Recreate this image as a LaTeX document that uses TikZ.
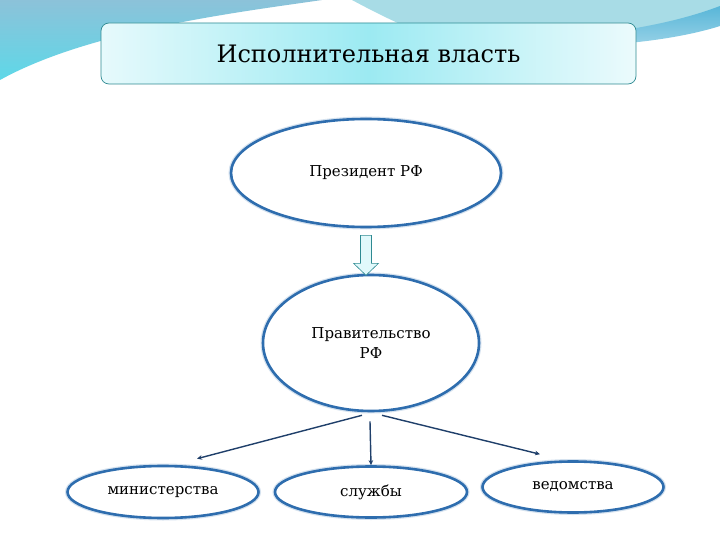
\documentclass[tikz,border=0pt]{standalone}
\usepackage{fontspec}
\setmainfont{DejaVu Serif}
\usetikzlibrary{arrows.meta, positioning, shapes.geometric, calc}
\definecolor{SkyBlue}{HTML}{8CC2D9}
\definecolor{SkyCyan}{HTML}{5ED8E8}
\definecolor{PaleCyan}{HTML}{A8DCE6}
\definecolor{Band}{HTML}{58B6D8}
\definecolor{Teal}{HTML}{2E8A92}
\definecolor{Ring}{HTML}{2E6DAE}
\definecolor{Ink}{HTML}{1F3F6A}
\definecolor{Glass}{HTML}{9CEAF2}

\begin{document}
\begin{tikzpicture}[x=1pt, y=-1pt,
    tbox/.style={rectangle, rounded corners=8pt, draw=Teal, line width=0.7pt,
                  left color=Glass!25!white, right color=Glass!20!white, middle color=Glass,
                  minimum width=535pt, minimum height=61pt, inner sep=0pt,
                  font=\fontsize{24}{28}\selectfont},
    ebox/.style={ellipse, draw=Ring, line width=2.6pt, fill=white, inner sep=0pt,
                  preaction={draw=Ring!20, line width=5pt},
                  align=center, font=\fontsize{15}{20}\selectfont},
    arr/.style={-{Stealth[length=5pt, width=4.5pt]}, line width=1.4pt, draw=Ink},
    barr/.style={draw=Teal, line width=0.6pt, fill=Glass!30!white}
  ]
    \useasboundingbox (0,0) rectangle (720,540);
    \fill[white] (0,0) rectangle (720,540);

    % background swoosh
    \shade[top color=SkyBlue, bottom color=SkyCyan]
      (0,0) -- (322,0) .. controls (240,12) and (90,30) .. (0,80) -- cycle;
    \fill[PaleCyan] (352,0) -- (720,0) -- (720,14)
      .. controls (640,40) and (540,52) .. (450,44)
      .. controls (410,30) and (380,15) .. (352,0) -- cycle;
    \shade[top color=Band, bottom color=Band!55!white]
      (720,6) .. controls (670,25) and (600,38) .. (470,44)
      .. controls (580,52) and (670,42) .. (720,26) -- cycle;

    \node[tbox] (title) at (368.5,53.5) {Исполнительная власть};

    \node[ebox, minimum width=270pt, minimum height=108pt] (pres) at (366,173) {Президент РФ};
    \node[ebox, minimum width=216pt, minimum height=136pt] (gov) at (371,343) {Правительство\\РФ};
    \node[ebox, minimum width=191pt, minimum height=52pt] (min) at (163,492) {министерства};
    \node[ebox, minimum width=192pt, minimum height=51pt] (slu) at (371,492) {службы};
    \node[ebox, minimum width=181pt, minimum height=51pt] (ved) at (573,487) {ведомства};

    % block arrow
    \draw[barr] ([xshift=-5.5pt, yshift=-7pt]pres.south) -- ++(0,28) -- ++(-7,0)
      -- ++(12.5,12) -- ++(12.5,-12) -- ++(-7,0) -- ++(0,-28) -- cycle;

    \draw[arr] ([xshift=-9pt, yshift=-3pt]gov.south) -- ([xshift=34pt, yshift=6pt]min.north);
    \draw[arr] ([xshift=-1pt, yshift=-9pt]gov.south) -- (slu.north);
    \draw[arr] ([xshift=11pt, yshift=-3pt]gov.south) -- ([xshift=-33pt, yshift=6pt]ved.north);
  \end{tikzpicture}
\end{document}
